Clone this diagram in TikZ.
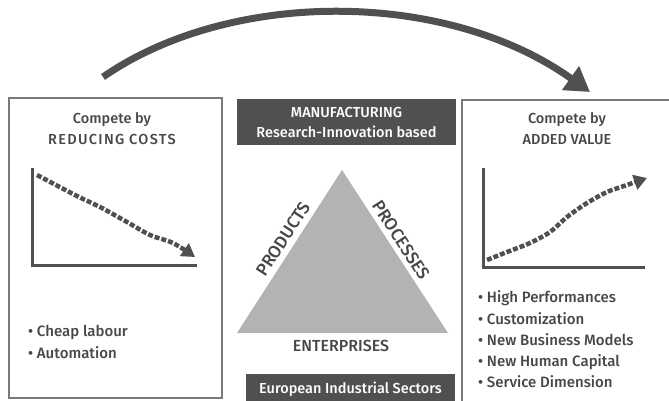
\documentclass[tikz,border=0pt]{standalone}
\usepackage{fontspec}
\setmainfont{Fira Sans Medium}
\usetikzlibrary{arrows.meta}
\definecolor{txt}{HTML}{474747}
\definecolor{dark}{HTML}{505050}
\definecolor{boxline}{HTML}{7A7A7A}
\definecolor{tri}{HTML}{B3B3B3}
\begin{document}
\begin{tikzpicture}[x=1pt,y=-1pt,
  every node/.style={font=\fontsize{14.5}{21}\selectfont, text=txt, inner sep=0pt},
  panel/.style={draw=boxline, line width=1.5pt},
  darkbox/.style={fill=dark, text=white, align=center},
  axis/.style={draw=dark, line width=3pt},
  dashcurve/.style={draw=dark, line width=4.5pt, dash pattern=on 5pt off 2pt, -{Triangle[length=13pt,width=15pt]}},
  bigarrow/.style={draw=dark, line width=7pt, -{Triangle[length=24pt,width=28pt]}},
  bullets/.style={align=left, anchor=west, font=\fontsize{15}{21.2}\selectfont},
  tilted/.style={font=\fontsize{17.5}{18}\selectfont}
]
\useasboundingbox (0,0) rectangle (669,400);
\clip (0,0) rectangle (669,400);

% side panels
\draw[panel] (9,98) rectangle (222,398);
\draw[panel] (462,100) rectangle (675,410);

% top arrow
\coordinate (arcS) at (103,77);
\coordinate (arcE) at (590,92);
\draw[bigarrow] (arcS) .. controls (230,-11) and (446,-11) .. (arcE);

% left panel
\node[align=center] (ltitle) at (112,129) {Compete by\\{\addfontfeature{LetterSpace=9}REDUCING COSTS}};
\coordinate (la1) at (32,168);
\coordinate (la0) at (32,265);
\coordinate (la2) at (197,265);
\draw[axis] (la1) -- (la0) -- (la2);
\draw[dashcurve] plot[smooth] coordinates {(37,175) (77,196) (100,207) (127,222) (150,235) (173,243) (195,257)};
\node[bullets] (lbul) at (28,342) {• Cheap labour\\• Automation};

% right panel
\node[align=center] (rtitle) at (567,129) {Compete by\\ADDED VALUE};
\coordinate (ra1) at (483,168);
\coordinate (ra0) at (483,267);
\coordinate (ra2) at (645,267);
\draw[axis] (ra1) -- (ra0) -- (ra2);
\draw[dashcurve] plot[smooth] coordinates {(487,260) (507,252) (530,243) (550,232) (567,217) (587,203) (607,192) (627,185) (647,178)};
\node[bullets] (rbul) at (478,339.5) {• High Performances\\• Customization\\• New Business Models\\• New Human Capital\\• Service Dimension};

% centre
\node[darkbox, minimum width=219pt, minimum height=46pt] (manuf) at (346.5,122) {MANUFACTURING\\[-1pt]Research-Innovation based};
\coordinate (tA) at (342,170);
\coordinate (tL) at (237,333);
\coordinate (tR) at (448,333);
\fill[tri] (tA) -- (tR) -- (tL) -- cycle;
\node[tilted, rotate=57] (prod) at (283,239) {PRODUCTS};
\node[tilted, rotate=-57] (proc) at (401,240) {PROCESSES};
\node[font=\fontsize{16}{18}\selectfont] (ent) at (341,346) {ENTERPRISES};
\node[darkbox, minimum width=209pt, minimum height=30pt] (eis) at (350.5,389) {European Industrial Sectors};
\end{tikzpicture}
\end{document}
